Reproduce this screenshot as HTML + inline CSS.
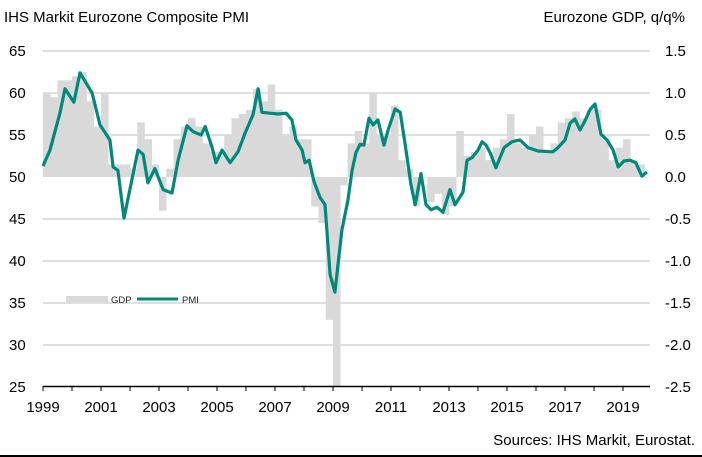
<!DOCTYPE html>
<html><head><meta charset="utf-8"><style>
html,body{margin:0;padding:0;background:#fff}
svg{display:block;font-family:"Liberation Sans",Arial,sans-serif}
</style></head><body>
<svg id="chart" width="702" height="457" viewBox="0 0 702 457">
<text x="4" y="22" font-size="15" fill="#000">IHS Markit Eurozone Composite  PMI</text>
<text x="685" y="22" font-size="15" text-anchor="end" fill="#000">Eurozone GDP, q/q%</text>
<g id="grid"></g><g id="bars"></g><g id="line"></g><g id="axes"></g>
<g>
<rect x="66" y="296" width="42" height="6" fill="#d9d9d9"/>
<text x="111" y="303" font-size="9.5" fill="#222">GDP</text>
<line x1="137" y1="299" x2="178" y2="299" stroke="#00897a" stroke-width="3"/>
<text x="182" y="303" font-size="9.5" fill="#222">PMI</text>
</g>
<text x="695" y="445" font-size="15" text-anchor="end" fill="#000">Sources: IHS Markit, Eurostat.</text>
<line x1="0" y1="456" x2="702" y2="456" stroke="#000" stroke-width="2"/>
</svg>
<script>
const leftTicks=[65,60,55,50,45,40,35,30,25];
const rightTicks=["1.5","1.0","0.5","0.0","-0.5","-1.0","-1.5","-2.0","-2.5"];
const yearLabels=[1999,2001,2003,2005,2007,2009,2011,2013,2015,2017,2019];
const gdpValues=[1.0,0.95,1.15,1.15, 1.2,1.25,0.9,0.6, 1.0,0.15,0.15,0.15, 0.1,0.65,0.45,0.15, -0.4,0.1,0.45,0.6,
 0.7,0.6,0.4,0.3, 0.3,0.5,0.7,0.75, 0.8,1.05,0.9,1.1, 0.8,0.5,0.6,0.45, 0.45,-0.35,-0.55,-1.7,
 -3.0,-0.1,0.4,0.55, 0.4,1.0,0.5,0.5, 0.85,0.2,0.1,-0.35, 0.0,-0.3,-0.2,-0.45, -0.35,0.55,0.25,0.3,
 0.35,0.2,0.35,0.45, 0.75,0.4,0.35,0.5, 0.6,0.3,0.4,0.65, 0.7,0.78,0.7,0.8, 0.8,0.45,0.2,0.35, 0.45,0.2,0.15];
const pmiMonths=[0,2.9,7,9.1,12.8,15.3,20.3,23.6,27.7,29,31,33.5,39.3,41.4,43.4,46.3,49.7,53.4,55.9,59.6,62.1,65.4,67.1,69.9,71.6,74.1,77.4,80.7,83.6,86.9,89,90.6,93.9,97.2,100.6,103,104.7,107.2,108.4,110.1,112.1,114.6,116.7,118.8,120.8,123.7,126.2,127.9,129.5,131.2,132.8,134.9,136.6,138.6,141.1,142.8,145.7,147.8,149.8,152.3,154,156.4,158.5,160.6,163,165.5,168.4,170.5,173.8,175.5,177.5,180,181.7,183.3,185,187.4,190.8,194.1,197.4,200.7,204.8,211,213.1,216,218.1,220.1,222.2,224.3,226.3,228.4,230.9,233.4,235.9,238,240.4,242.9,245.3,247.8,249.9];
const pmiValues=[51.3,53.2,57.6,60.5,58.9,62.4,60.0,56.2,54.4,51.2,50.8,45.1,53.2,52.7,49.3,51,48.5,48.1,52,56.1,55.4,55,56,53.6,51.7,53.2,51.7,53,55.2,57.4,60.5,57.7,57.6,57.5,57.6,56.8,54.4,53.2,51.7,52,49.5,47.6,46.7,38.4,36.3,43.7,47.3,50.8,52.9,53.9,53.8,57,56.2,56.8,53.8,55.6,58.1,57.7,54,49,46.7,50.4,46.7,46.1,46.4,45.8,48.5,46.7,48.2,52,52.3,53.2,54.2,53.8,52.9,51.1,53.5,54.2,54.4,53.5,53.1,53.0,53.5,54.4,56.4,56.9,55.6,56.7,58,58.7,55.1,54.4,53.2,51.2,51.9,52,51.7,50.1,50.6];

const NS="http://www.w3.org/2000/svg";
const X0=43,PX_YEAR=29,RIGHT=650;
const yL=v=>177-(v-50)*8.4;
const yR=v=>177-v*84;
const xM=m=>X0+m*PX_YEAR/12;
function mk(tag,attrs,parent){const e=document.createElementNS(NS,tag);for(const k in attrs)e.setAttribute(k,attrs[k]);parent.appendChild(e);return e;}
const grid=document.getElementById('grid'),axes=document.getElementById('axes'),bars=document.getElementById('bars'),lineG=document.getElementById('line');
leftTicks.forEach((v,i)=>{
  const y=yL(v);
  if(v!==50&&v!==25){const g=mk('line',{x1:X0,x2:RIGHT,y1:y,y2:y,stroke:'#bfbfbf','stroke-width':1},grid);
  
  }
  const t=mk('text',{x:9,y:y+5,'font-size':15,fill:'#000'},axes);t.textContent=v;
  
  
  const r=mk('text',{x:665,y:y+5,'font-size':15,fill:'#000'},axes);r.textContent=rightTicks[i];
  
  
});
const bw=PX_YEAR/4;
gdpValues.forEach((g,i)=>{
  let y1=yR(Math.max(g,0)),y2=yR(Math.min(g,0));
  y2=Math.min(y2,386);
  const b=mk('rect',{x:X0+i*bw,y:y1,width:bw+0.3,height:Math.max(y2-y1,0.5),fill:'#d9d9d9'},bars);
  
  
});
const n=Math.min(pmiMonths.length,pmiValues.length);
const pts=pmiMonths.slice(0,n).map((m,i)=>xM(m).toFixed(1)+','+yL(pmiValues[i]).toFixed(1)).join(' ');
const pl=mk('polyline',{points:pts,fill:'none',stroke:'#00897a','stroke-width':3.2,'stroke-linejoin':'round'},lineG);


const ax=mk('line',{x1:X0,x2:RIGHT,y1:386.5,y2:386.5,stroke:'#000','stroke-width':1.5},axes);


for(let k=0;k<=20;k++){
  const x=X0+k*PX_YEAR;
  const tk=mk('line',{x1:x,x2:x,y1:386,y2:391,stroke:'#000','stroke-width':1},axes);
  
  
}
yearLabels.forEach(yr=>{
  const t=mk('text',{x:X0+(yr-1999)*PX_YEAR,y:412,'font-size':15,'text-anchor':'middle',fill:'#000'},axes);
  t.textContent=yr;
  
  
});
</script>
</body></html>
